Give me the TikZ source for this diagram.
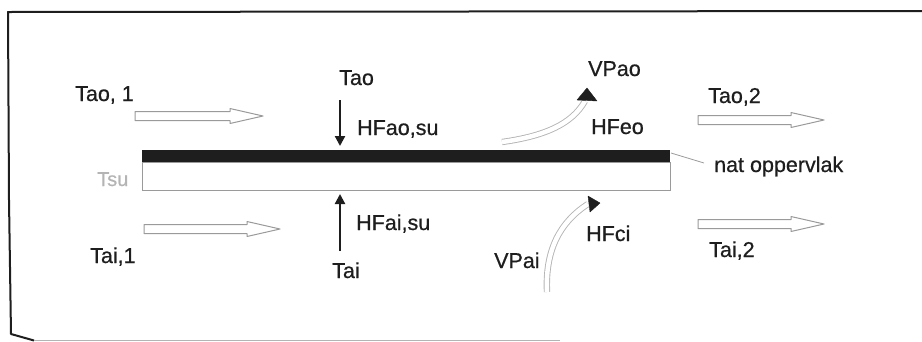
\documentclass[tikz,border=0pt]{standalone}
\usepackage{fontspec}
\setmainfont{Liberation Sans}[FakeBold=0.6]
\usetikzlibrary{arrows.meta}

\definecolor{ink}{HTML}{1E1E1E}
\definecolor{pale}{HTML}{9A9A9A}
\definecolor{faint}{HTML}{B4B4B4}

% hollow air-flow arrow: start x, tip x, centre y
\newcommand{\hollowarrow}[3]{%
  \draw[flowarrow] (#1,#3-4.5) -- (#2-33,#3-4.5) -- (#2-33,#3-7.5) -- (#2,#3) -- (#2-33,#3+7.5) -- (#2-33,#3+4.5) -- (#1,#3+4.5) -- cycle;}

\begin{document}
\begin{tikzpicture}[x=1pt,y=-1pt,
  lbl/.style={font=\fontsize{21.5}{23}\selectfont, text=ink, inner sep=0pt, anchor=base west},
  flowarrow/.style={draw=pale, line width=1pt, fill=white, line join=round},
  heatarrow/.style={draw=ink, line width=2.2pt, -{Triangle[length=10pt,width=10pt]}},
  vapour/.style={draw=faint, line width=0.9pt, double=white, double distance=4.5pt},
  vtip/.style={fill=ink, draw=ink, line join=round}
]
\useasboundingbox (0,0) rectangle (922,341);

% frame
\draw[ink, line width=2pt, line join=round] (922,11) -- (8,12) -- (9,200) -- (11,334) -- (34,340.5);
\draw[faint, line width=1pt] (34,340.5) -- (560,340.5);

% wall: wet surface on top of the plate
\fill[ink] (142,150) rectangle (670,162);
\draw[pale, line width=0.9pt] (142,162) rectangle (670,190);
\node[font=\fontsize{20}{22}\selectfont, text=faint, inner sep=0pt, anchor=base west] (tsu) at (97,186) {Tsu};

% leader to the wet surface label
\node[lbl] (nat) at (714,172) {nat oppervlak};
\coordinate (wetend) at (671,153);
\draw[pale, line width=0.8pt] (wetend) -- (704,163);

% air flows along the plate
\hollowarrow{135}{263}{116}
\hollowarrow{144}{280}{229}
\hollowarrow{698}{824}{120}
\hollowarrow{698}{824}{224}

\node[lbl] (tao1) at (75,101) {Tao, 1};
\node[lbl] (tai1) at (90,263) {Tai,1};
\node[lbl] (tao2) at (708,103) {Tao,2};
\node[lbl] (tai2) at (709,257) {Tai,2};

% convective heat flows to the plate
\node[lbl] (tao) at (339,85) {Tao};
\node[lbl] (tai) at (332,278) {Tai};
\node[lbl] (hfaosu) at (357,135) {HFao,su};
\node[lbl] (hfaisu) at (356,230) {HFai,su};
\coordinate (topin) at (340,146);
\coordinate (botin) at (340,194);
\draw[heatarrow] (340,100) -- (topin);
\draw[heatarrow] (340,251) -- (botin);

% evaporation from the wet surface
\node[lbl] (vpao) at (588,76) {VPao};
\node[lbl] (hfeo) at (591,134) {HFeo};
\coordinate (evs) at (502,142);
\coordinate (eve) at (585,101);
\draw[vapour] (evs) .. controls (545,136) and (572,124) .. (eve);
\draw[vtip] (577,100) -- (597,101) -- (587,88) -- cycle;

% condensation on the inner side
\node[lbl] (vpai) at (494,268) {VPai};
\node[lbl] (hfci) at (586,241) {HFci};
\coordinate (cos) at (547,292);
\coordinate (coe) at (588,204);
\draw[vapour] (cos) .. controls (545,250) and (560,222) .. (coe);
\draw[vtip] (588,196) -- (600,203) -- (590,212) -- cycle;
\end{tikzpicture}
\end{document}
